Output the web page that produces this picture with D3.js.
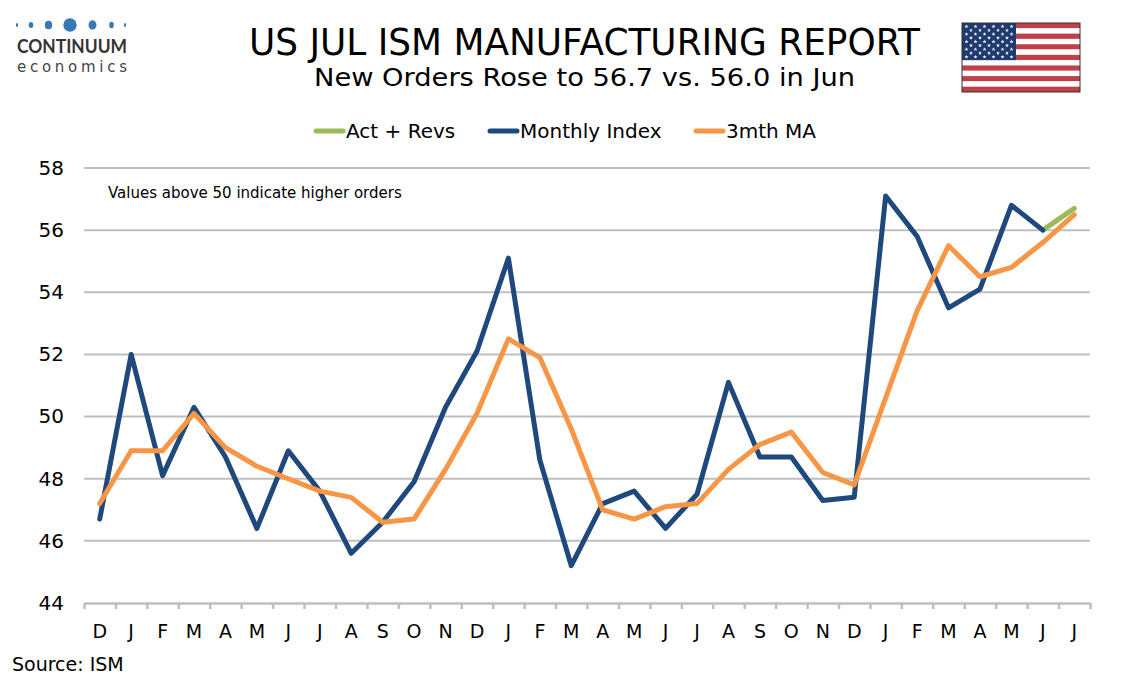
<!DOCTYPE html>
<html>
<head>
<meta charset="utf-8">
<script src="https://cdn.jsdelivr.net/npm/d3@7"></script>
<style>
  body { margin: 0; background: #fff; }
  svg { display: block; font-family: "DejaVu Sans", Verdana, sans-serif; }
</style>
</head>
<body>
<div id="chart"></div>
<script>
// Data
const months = ["D","J","F","M","A","M","J","J","A","S","O","N","D","J","F","M","A","M","J","J","A","S","O","N","D","J","F","M","A","M","J","J"]
const actRevs = [null,null,null,null,null,null,null,null,null,null,null,null,null,null,null,null,
  null,null,null,null,null,null,null,null,null,null,null,null,null,null,56.0,56.7]
const monthlyIndex = [46.7,52.0,48.1,50.3,48.7,46.4,48.9,47.6,45.6,46.6,47.9,50.3,52.1,55.1,48.6,45.2,
  47.2,47.6,46.4,47.5,51.1,48.7,48.7,47.3,47.4,57.1,55.8,53.5,54.1,56.8,56.0,null]
const ma3 = [47.2,48.9,48.9,50.1,49.0,48.4,48.0,47.6,47.4,46.6,46.7,48.3,50.1,52.5,51.9,49.6,
  47.0,46.7,47.1,47.2,48.3,49.1,49.5,48.2,47.8,50.6,53.4,55.5,54.5,54.8,55.6,56.5]
const seriesNames = ["Act + Revs", "Monthly Index", "3mth MA"]
const seriesColors = ["#9bbb59", "#1f497d", "#f79646"]
const yTicks = [44, 46, 48, 50, 52, 54, 56, 58]

const W = 1134, H = 680
const PLOT = { LEFT: 84, RIGHT: 1090, TOP: 168, BOTTOM: 603 }

const svg = d3.select("#chart").append("svg")
  .attr("width", W)
  .attr("height", H)

// Scales
const x = d3.scaleBand()
  .domain(d3.range(months.length))
  .range([PLOT.LEFT, PLOT.RIGHT])
const xEdge = d3.scaleLinear()
  .domain([0, months.length])
  .range([PLOT.LEFT, PLOT.RIGHT])
const y = d3.scaleLinear()
  .domain([44, 58])
  .range([PLOT.BOTTOM, PLOT.TOP])

// Gridlines
svg.append("g")
  .selectAll("line")
  .data(yTicks.slice(1))
  .join("line")
    .attr("x1", PLOT.LEFT)
    .attr("x2", PLOT.RIGHT)
    .attr("y1", d => y(d))
    .attr("y2", d => y(d))
    .attr("stroke", "#bfbfbf")
    .attr("stroke-width", 2)

// Y axis labels
const yAxis = svg.append("g")
  .attr("transform", `translate(${PLOT.LEFT - 20}, 0)`)
  .call(d3.axisLeft(y).tickValues(yTicks).tickSize(0).tickPadding(0))
yAxis.select(".domain").remove()
yAxis.selectAll("text")
  .attr("font-size", "20px")
  .attr("font-family", "DejaVu Sans, Verdana, sans-serif")
  .attr("fill", "#000")

// X axis: ticks on the band edges, labels in the middle
const xTicks = svg.append("g")
  .attr("transform", `translate(0, ${PLOT.BOTTOM})`)
  .call(d3.axisBottom(xEdge).tickValues(d3.range(months.length + 1)).tickSize(6).tickSizeOuter(0).tickFormat(""))
xTicks.select(".domain").attr("stroke", "#bfbfbf").attr("stroke-width", 2.5)
xTicks.selectAll(".tick line").attr("stroke", "#bfbfbf").attr("stroke-width", 2.5)

const xLabels = svg.append("g")
  .attr("transform", `translate(0, ${PLOT.BOTTOM + 21})`)
  .call(d3.axisBottom(x).tickSize(0).tickPadding(0).tickFormat(i => months[i]))
xLabels.select(".domain").remove()
xLabels.selectAll("text")
  .attr("font-size", "19px")
  .attr("font-family", "DejaVu Sans, Verdana, sans-serif")
  .attr("fill", "#000")

// Lines
const line = d3.line()
  .defined(d => d != null)
  .x((d, i) => x(i) + x.bandwidth() / 2)
  .y(d => y(d))

const allSeries = [actRevs, monthlyIndex, ma3]
svg.append("g")
  .selectAll("path")
  .data(allSeries)
  .join("path")
    .attr("d", d => line(d))
    .attr("fill", "none")
    .attr("stroke", (d, i) => seriesColors[i])
    .attr("stroke-width", 5)
    .attr("stroke-linejoin", "round")
    .attr("stroke-linecap", "round")

// Annotation
svg.append("text")
  .attr("x", 108)
  .attr("y", 198)
  .attr("font-size", "15px")
  .attr("fill", "#000")
  .text("Values above 50 indicate higher orders")

// Legend
const legendX = [314, 488, 694]
const legend = svg.append("g")
  .selectAll("g")
  .data(seriesNames)
  .join("g")
    .attr("transform", (d, i) => `translate(${legendX[i]}, 131)`)
legend.append("line")
  .attr("x1", 2).attr("x2", 29)
  .attr("stroke", (d, i) => seriesColors[i])
  .attr("stroke-width", 5)
  .attr("stroke-linecap", "round")
legend.append("text")
  .attr("x", 32)
  .attr("y", 7)
  .attr("font-size", "20px")
  .attr("fill", "#000")
  .text(d => d)

// Titles
svg.append("text")
  .attr("x", 249)
  .attr("y", 55)
  .attr("font-size", "38px")
  .attr("textLength", 671)
  .attr("lengthAdjust", "spacingAndGlyphs")
  .attr("fill", "#000")
  .text("US JUL ISM MANUFACTURING REPORT")
svg.append("text")
  .attr("x", 314)
  .attr("y", 86)
  .attr("font-size", "25px")
  .attr("textLength", 541)
  .attr("lengthAdjust", "spacingAndGlyphs")
  .attr("fill", "#000")
  .text("New Orders Rose to 56.7 vs. 56.0 in Jun")

// Source
svg.append("text")
  .attr("x", 12)
  .attr("y", 671)
  .attr("font-size", "19px")
  .attr("fill", "#000")
  .text("Source: ISM")

// Logo
const logo = svg.append("g")
const dots = [[17, 1.1, 2], [31, 2.3, 3], [48.5, 3.7, 4.3], [70, 6.7, 6.7], [92.5, 4, 4.7], [111.5, 2.3, 3.3], [125, 1.1, 2]]
logo.selectAll("ellipse")
  .data(dots)
  .join("ellipse")
    .attr("cx", d => d[0])
    .attr("cy", 25)
    .attr("rx", d => d[1])
    .attr("ry", d => d[2])
    .attr("fill", "#3a78b4")
logo.append("text")
  .attr("x", 17)
  .attr("y", 53)
  .attr("font-family", "Lato, DejaVu Sans, sans-serif")
  .attr("font-size", "18px")
  .attr("font-weight", "bold")
  .attr("textLength", 110)
  .attr("lengthAdjust", "spacingAndGlyphs")
  .attr("fill", "#333")
  .text("CONTINUUM")
logo.append("text")
  .attr("x", 17)
  .attr("y", 71.5)
  .attr("font-family", "DejaVu Sans, sans-serif")
  .attr("font-size", "15px")
  .attr("textLength", 110)
  .attr("lengthAdjust", "spacing")
  .attr("fill", "#444")
  .text("economics")

// Flag
const flag = svg.append("g").attr("transform", "translate(962, 23)")
const fw = 118, fh = 69, sh = fh / 13
flag.selectAll("rect.stripe")
  .data(d3.range(13))
  .join("rect")
    .attr("class", "stripe")
    .attr("x", 0)
    .attr("y", i => i * sh)
    .attr("width", fw)
    .attr("height", sh)
    .attr("fill", i => i % 2 ? "#ffffff" : "#c0404a")
flag.append("rect")
  .attr("width", 54)
  .attr("height", sh * 7)
  .attr("fill", "#1f3a6e")
const stars = []
for (let r = 0; r < 9; r++) {
  const n = r % 2 ? 5 : 6
  for (let c = 0; c < n; c++) {
    stars.push([4.5 + c * 9 + (r % 2 ? 4.5 : 0), 3.5 + r * 3.8])
  }
}
flag.selectAll("path.star")
  .data(stars)
  .join("path")
    .attr("class", "star")
    .attr("d", d3.symbol(d3.symbolStar, 5))
    .attr("transform", d => `translate(${d[0]}, ${d[1]})`)
    .attr("fill", "#fff")
flag.append("rect")
  .attr("width", fw)
  .attr("height", fh)
  .attr("fill", "none")
  .attr("stroke", "#333")
  .attr("stroke-width", 1)
</script>
</body>
</html>
